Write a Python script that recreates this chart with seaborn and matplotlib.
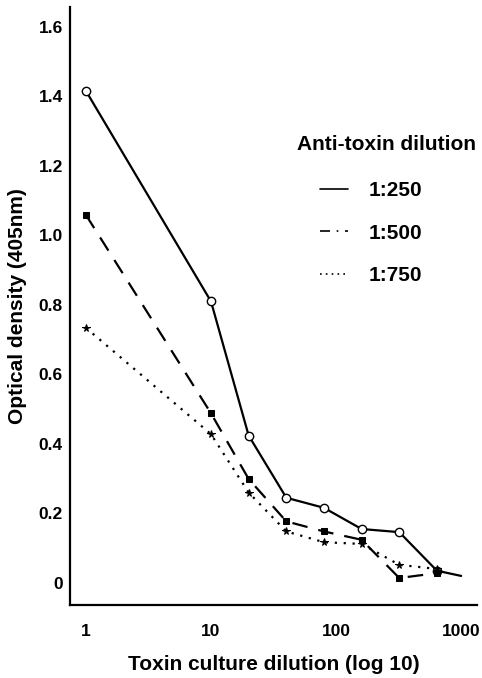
import numpy as np
import pandas as pd
import matplotlib
matplotlib.use('Agg')
import matplotlib.pyplot as plt
import seaborn as sns

# data
dilution = [1, 10, 20, 40, 80, 160, 320, 640]
od_250 = [1.415, 0.809, 0.423, 0.244, 0.215, 0.154, 0.145, 0.034]
od_500 = [1.058, 0.487, 0.298, 0.176, 0.147, 0.123, 0.013, 0.027]
od_750 = [0.733, 0.427, 0.259, 0.147, 0.116, 0.111, 0.051, 0.039]
# solid line runs on to the end of the axis
tail_x = [640, 1000]
tail_250 = [0.034, 0.019]

series_labels = ['1:250', '1:500', '1:750']
y_ticks = [0, 0.2, 0.4, 0.6, 0.8, 1.0, 1.2, 1.4, 1.6]
y_ticklabels = ['0', '0.2', '0.4', '0.6', '0.8', '1.0', '1.2', '1.4', '1.6']
x_ticks = [1, 10, 100, 1000]
x_ticklabels = ['1', '10', '100', '1000']

sns.set_style('white')
plt.rcParams['font.family'] = ['Liberation Sans', 'DejaVu Sans']
plt.rcParams['font.weight'] = 'bold'
plt.rcParams['text.color'] = 'black'
plt.rcParams['axes.labelcolor'] = 'black'
plt.rcParams['xtick.color'] = 'black'
plt.rcParams['ytick.color'] = 'black'

fig = plt.figure(figsize=(4.82, 6.78), dpi=100)
ax = fig.add_axes([0.145, 0.107, 0.845, 0.883])

sns.lineplot(x=dilution, y=od_250, ax=ax, color='black', lw=1.6, linestyle='-',
             marker='o', markersize=6, markerfacecolor='white', markeredgecolor='black',
             markeredgewidth=1.0)
sns.lineplot(x=tail_x, y=tail_250, ax=ax, color='black', lw=1.6, linestyle='-')
sns.lineplot(x=dilution, y=od_500, ax=ax, color='black', lw=1.6, linestyle=(0, (7, 5)),
             marker='s', markersize=4.5, markerfacecolor='black', markeredgecolor='black')
sns.lineplot(x=dilution, y=od_750, ax=ax, color='black', lw=1.6, linestyle=(0, (1, 3)),
             marker='*', markersize=5.5, markerfacecolor='black', markeredgecolor='black')

ax.set_xscale('log')
ax.set_xlim(10 ** -0.128, 10 ** 3.128)
ax.set_ylim(-0.066, 1.657)
ax.set_xticks(x_ticks)
ax.set_xticklabels(x_ticklabels)
ax.minorticks_off()
ax.set_yticks(y_ticks)
ax.set_yticklabels(y_ticklabels)

for s in ['top', 'right']:
    ax.spines[s].set_visible(False)
for s in ['left', 'bottom']:
    ax.spines[s].set_color('black')
    ax.spines[s].set_linewidth(1.6)

ax.tick_params(axis='x', direction='in', length=10, width=1.5, labelsize=12.5, pad=13)
ax.tick_params(axis='y', direction='inout', length=10, width=1.2, labelsize=12.5, pad=0)

ax.set_xlabel('Toxin culture dilution (log 10)', fontsize=15, fontweight='bold', labelpad=12)
ax.set_ylabel('Optical density (405nm)', fontsize=15, fontweight='bold', labelpad=8)

# legend: title drawn as text, entries indented under it
ax.text(0.558, 0.77, 'Anti-toxin dilution', transform=ax.transAxes,
        fontsize=15, fontweight='bold', ha='left', va='center')
handles = [
    plt.Line2D([], [], color='black', lw=1.2, linestyle='-'),
    plt.Line2D([], [], color='black', lw=1.2, linestyle=(0, (6, 4, 1, 4))),
    plt.Line2D([], [], color='black', lw=1.2, linestyle=(0, (1, 2.5))),
]
leg = ax.legend(handles, series_labels, loc='upper left', bbox_to_anchor=(0.589, 0.726),
                frameon=False, fontsize=15, handlelength=1.35, handletextpad=0.96,
                labelspacing=1.12, borderpad=0)
for t in leg.get_texts():
    t.set_fontweight('bold')

fig.savefig('out.png', dpi=100)
